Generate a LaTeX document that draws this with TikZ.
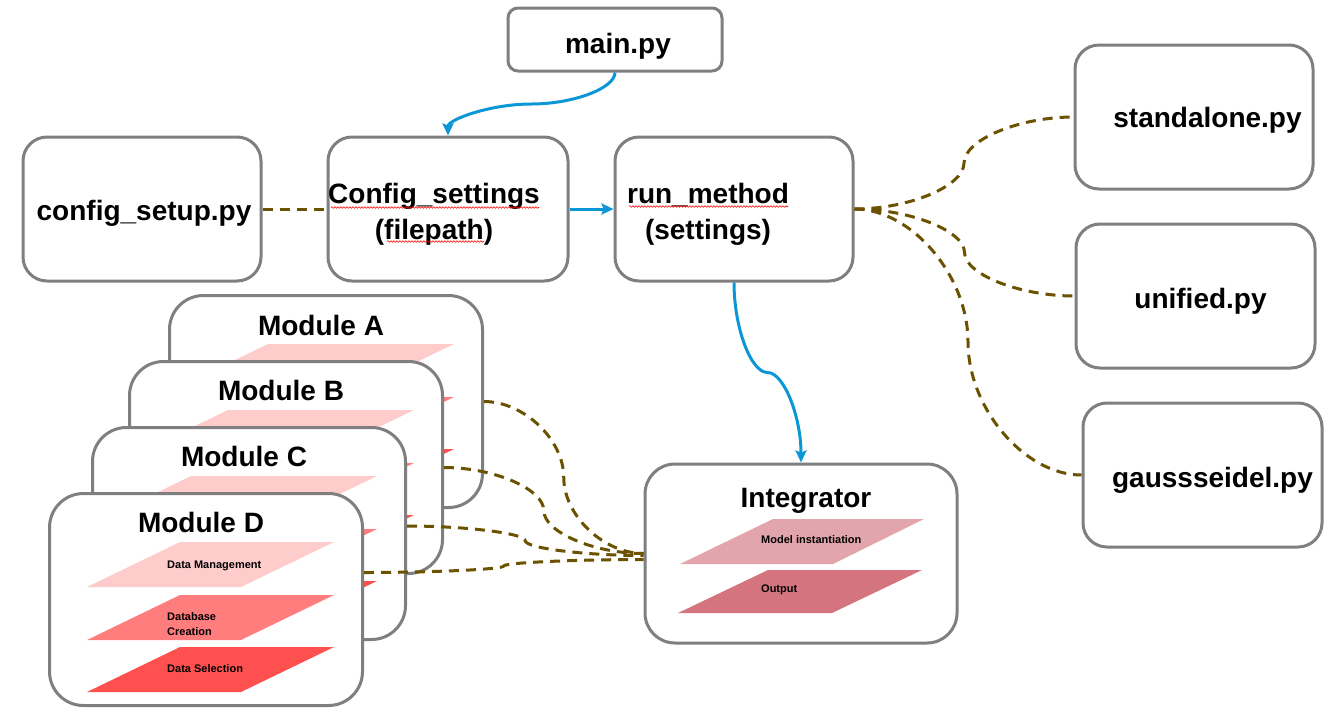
\documentclass[tikz,border=0pt]{standalone}
\usepackage{fontspec}
\setmainfont{Liberation Sans}
\usetikzlibrary{arrows.meta,calc,decorations.pathmorphing}
\definecolor{frame}{HTML}{7F7F7F}
\definecolor{callblue}{HTML}{0B96D6}
\definecolor{linkbrown}{HTML}{6B5200}
\definecolor{dmpink}{HTML}{FFCCCC}
\definecolor{dcpink}{HTML}{FF7D7D}
\definecolor{dsred}{HTML}{FF5050}
\definecolor{mirose}{HTML}{E2A5AB}
\definecolor{outrose}{HTML}{D4747F}
\tikzset{
  pyfile/.style={draw=frame, line width=3pt, fill=white, rounded corners=#1, inner sep=0pt},
  pyfile/.default=24pt,
  module/.style={pyfile=34pt, minimum width=313pt, minimum height=212pt, anchor=north west},
  head/.style={font=\bfseries\fontsize{28}{36.5}\selectfont, align=center, inner sep=0pt},
  tag/.style={font=\bfseries\fontsize{11}{14.3}\selectfont, align=left, inner sep=0pt},
  call/.style={draw=callblue, line width=3pt, -{Stealth[length=12pt,width=11pt,inset=2pt]}},
  uses/.style={draw=linkbrown, line width=3pt, dash pattern=on 10pt off 7pt},
  hbend/.style={to path={let \p1=(\tikztostart), \p2=(\tikztotarget),
      \p3=({(\x1+\x2)/2},{(\y1+\y2)/2}), \p4=({(3*\x1+\x2)/4},\y1),
      \p5=({(\x1+\x2)/2},{(3*\y1+\y2)/4}), \p6=({(\x1+\x2)/2},{(\y1+3*\y2)/4}),
      \p7=({(\x1+3*\x2)/4},\y2)
    in .. controls (\p4) and (\p5) .. (\p3) .. controls (\p6) and (\p7) .. (\tikztotarget)}},
  vbend/.style={to path={let \p1=(\tikztostart), \p2=(\tikztotarget),
      \p3=({(\x1+\x2)/2},{(\y1+\y2)/2}), \p4=(\x1,{(3*\y1+\y2)/4}),
      \p5=({(3*\x1+\x2)/4},{(\y1+\y2)/2}), \p6=({(\x1+3*\x2)/4},{(\y1+\y2)/2}),
      \p7=(\x2,{(\y1+3*\y2)/4})
    in .. controls (\p4) and (\p5) .. (\p3) .. controls (\p6) and (\p7) .. (\tikztotarget)}},
  squig/.style={draw=red, line width=0.6pt, decorate,
    decoration={snake, amplitude=0.8pt, segment length=3pt}}
}
\begin{document}
\begin{tikzpicture}[x=1pt,y=-1pt]
\pgfmathsetmacro{\sl}{93}
\pgfmathsetmacro{\lh}{45}
\useasboundingbox (0,0) rectangle (1340,721);
%
\node[pyfile=10pt, minimum width=214pt, minimum height=63pt] (main) at (615,39.5) {};
\node[head, anchor=base] (main-t) at (618,53) {main.py};
%
\node[pyfile, minimum width=238pt, minimum height=144pt] (setup) at (142,209) {};
\node[head, anchor=base] (setup-t) at (144,220) {config\_setup.py};
%
\node[pyfile, minimum width=240pt, minimum height=144pt] (cfg) at (448,209) {};
\node[head] (cfg-t) at (434,214.5) {Config\_settings\\(filepath)};
\draw[squig] (331,207.5) -- (539,207.5);
\draw[squig] (387,241.5) -- (484,241.5);
%
\node[pyfile, minimum width=238pt, minimum height=144pt] (run) at (734,209) {};
\node[head] (run-t) at (708,214.5) {run\_method\\(settings)};
\draw[squig] (629,206.5) -- (788,206.5);
%
\node[pyfile, minimum width=238pt, minimum height=144pt] (stand) at (1194,117) {};
\node[head, anchor=base] (stand-t) at (1207.5,127) {standalone.py};
%
\node[pyfile, minimum width=239pt, minimum height=144pt] (unif) at (1195.5,296) {};
\node[head, anchor=base] (unif-t) at (1200.5,308) {unified.py};
%
\node[pyfile, minimum width=239pt, minimum height=144pt] (gauss) at (1202.5,475) {};
\node[head, anchor=base] (gauss-t) at (1212.5,487) {gaussseidel.py};
%
\node[pyfile=30pt, minimum width=312pt, minimum height=179pt] (integ) at (801,553.5) {};
\node[head, anchor=base] (integ-t) at (806,507) {Integrator};
\fill[mirose] (773,519) -- ++(151,0) -- ++(-91,45) -- ++(-153,0) -- cycle;
\fill[outrose] (768,570) -- ++(154,0) -- ++(-90,43) -- ++(-154,0) -- cycle;
\node[tag, anchor=base west] (mi) at (761,543) {Model instantiation};
\node[tag, anchor=base west] (outp) at (761,592) {Output};
%
\node[module] (modA) at (168,294) {};
\node[head, anchor=base] (modA-t) at (168+153,294+41) {Module A};
\fill[dmpink] (168+100,294+50) -- ++(186,0) -- ++(-\sl,\lh) -- ++(-186,0) -- cycle;
\fill[dcpink] (168+100,294+103) -- ++(186,0) -- ++(-\sl,\lh) -- ++(-186,0) -- cycle;
\fill[dsred] (168+100,294+155) -- ++(186,0) -- ++(-\sl,\lh) -- ++(-186,0) -- cycle;
%
\node[module] (modB) at (128,360) {};
\node[head, anchor=base] (modB-t) at (128+153,360+40) {Module B};
\fill[dmpink] (128+100,360+50) -- ++(186,0) -- ++(-\sl,\lh) -- ++(-186,0) -- cycle;
\fill[dcpink] (128+100,360+103) -- ++(186,0) -- ++(-\sl,\lh) -- ++(-186,0) -- cycle;
\fill[dsred] (128+100,360+155) -- ++(186,0) -- ++(-\sl,\lh) -- ++(-186,0) -- cycle;
%
\node[module] (modC) at (91,426) {};
\node[head, anchor=base] (modC-t) at (91+153,426+40.5) {Module C};
\fill[dmpink] (91+100,426+50) -- ++(186,0) -- ++(-\sl,\lh) -- ++(-186,0) -- cycle;
\fill[dcpink] (91+100,426+103) -- ++(186,0) -- ++(-\sl,\lh) -- ++(-186,0) -- cycle;
\fill[dsred] (91+100,426+155) -- ++(186,0) -- ++(-\sl,\lh) -- ++(-186,0) -- cycle;
%
\node[module] (modD) at (48,492) {};
\node[head, anchor=base] (modD-t) at (48+153,492+40) {Module D};
\fill[dmpink] (48+132,492+50) -- ++(154,0) -- ++(-\sl,\lh) -- ++(-154,0) -- cycle;
\fill[dcpink] (48+132,492+103) -- ++(154,0) -- ++(-\sl,\lh) -- ++(-154,0) -- cycle;
\fill[dsred] (48+132,492+155) -- ++(154,0) -- ++(-\sl,\lh) -- ++(-154,0) -- cycle;
\node[tag, anchor=base west] (dm) at (167,568) {Data Management};
\node[tag, anchor=west] (dc) at (167,624) {Database\\Creation};
\node[tag, anchor=base west] (ds) at (167,672.5) {Data Selection};
%
% calls
\draw[call] (main.south) to[vbend] (cfg.north);
\draw[call] (cfg.east) -- (run.west);
\draw[call] (run.south) to[vbend] (integ.north);
%
% uses
\draw[uses] (setup.east) -- (cfg.west);
\draw[uses] (run.east) to[hbend] (stand.west);
\draw[uses] (run.east) to[hbend] (unif.west);
\draw[uses] (run.east) to[hbend] (gauss.west);
\draw[uses] (modA.east) to[hbend] (integ.west);
\draw[uses] (modB.east) to[hbend] (integ.west);
\draw[uses] ([yshift=7.5pt]modC.east) to[hbend] ([yshift=-2pt]integ.west);
\draw[uses] ([yshift=27pt]modD.east) to[hbend] ([yshift=-6pt]integ.west);
\end{tikzpicture}
\end{document}
